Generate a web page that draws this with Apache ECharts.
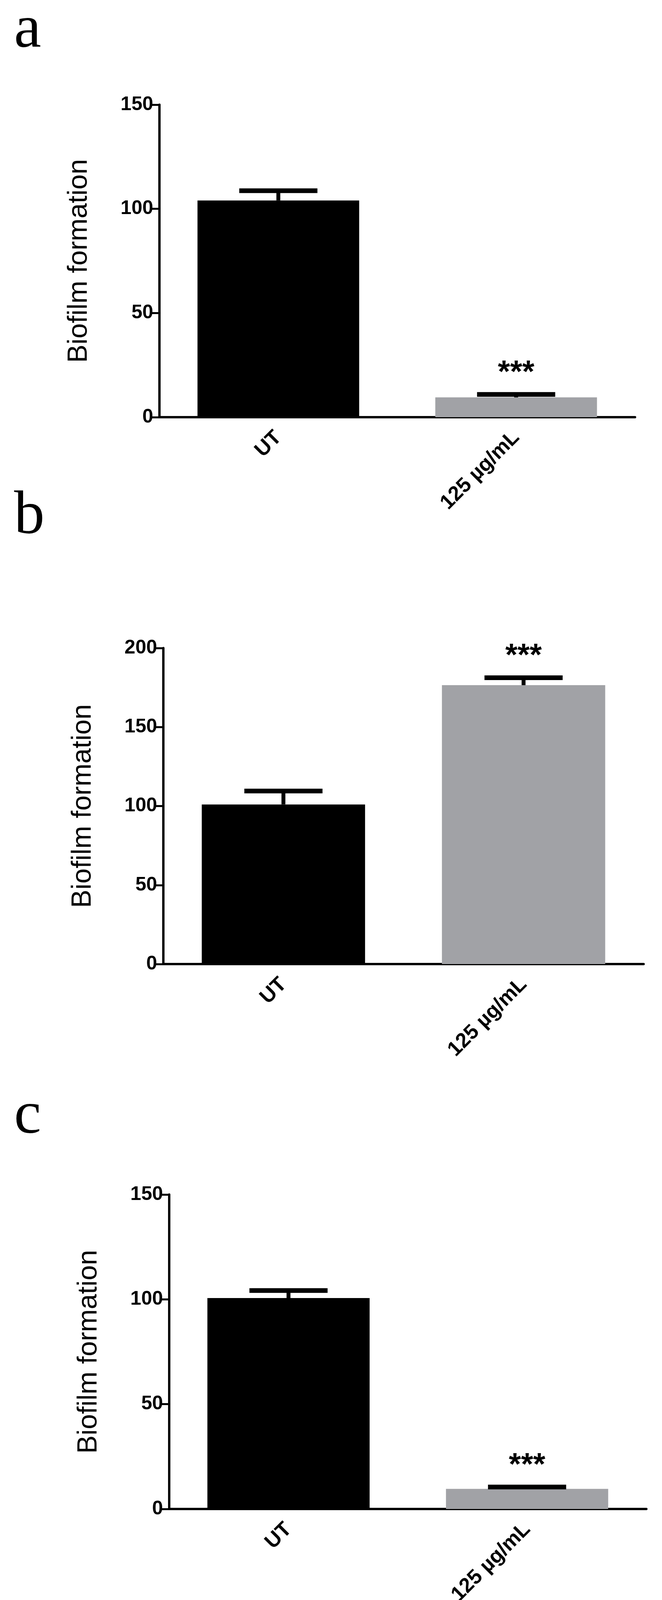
<!DOCTYPE html>
<html><head><meta charset="utf-8">
<script src="https://cdn.jsdelivr.net/npm/echarts@6/dist/echarts.min.js"></script>
<style>html,body{margin:0;padding:0;background:#fff}#c{width:1694px;height:4163px}</style>
</head><body><div id="c"></div>
<script>
const categories = ['UT', '125 µg/mL'];
const panelLetters = ['a', 'b', 'c'];
const meansA = [104, 9.5];
const errTopA = [108.7, 10.9];
const meansB = [101, 176.5];
const errTopB = [109.5, 181.2];
const meansC = [100.6, 9.6];
const errTopC = [104.2, 10.5];
const sigLabels = ['', '***'];
const yMax = [150, 200, 150];
const yInterval = [50, 50, 50];

const means = [meansA, meansB, meansC];
const errs = [errTopA, errTopB, errTopC];
const grids = [
  {left: 408, top: 268, width: 1217, height: 800},
  {left: 418, top: 1659, width: 1229, height: 809},
  {left: 433, top: 3058, width: 1221, height: 805}
];
const letterY = [0, 1245, 2780];
const colors = ['#000000', '#a1a2a6'];
const F = 'Liberation Sans, Arial, sans-serif';

const option = {
  animation: false,
  backgroundColor: '#fff',
  title: panelLetters.map((l, i) => ({text: l, left: 36, top: letterY[i], padding: 0,
    textStyle: {fontFamily: 'Liberation Serif, Times New Roman, serif', fontWeight: 'normal', fontSize: 156, color: '#000'}})),
  grid: grids,
  xAxis: grids.map((g, i) => ({
    type: 'category', gridIndex: i, data: categories,
    axisLine: {lineStyle: {color: '#000', width: 6}},
    axisTick: {alignWithLabel: true, length: 22, lineStyle: {color: '#000', width: 5}},
    axisLabel: {rotate: 45, margin: 44, fontFamily: F, fontWeight: 'bold', fontSize: 53, color: '#000'}
  })),
  yAxis: grids.map((g, i) => ({
    type: 'value', gridIndex: i, min: 0, max: yMax[i], interval: yInterval[i],
    name: 'Biofilm formation', nameLocation: 'middle', nameGap: 170,
    nameTextStyle: {fontFamily: F, fontSize: 70, color: '#000'},
    splitLine: {show: false},
    axisLine: {show: true, lineStyle: {color: '#000', width: 6}},
    axisTick: {show: true, length: 20, lineStyle: {color: '#000', width: 5}},
    axisLabel: {margin: 16, fontFamily: F, fontWeight: 'bold', fontSize: 50, color: '#000'}
  })),
  series: []
};

means.forEach((m, i) => {
  option.series.push({
    type: 'bar', xAxisIndex: i, yAxisIndex: i, barWidth: '68%',
    data: m.map((v, k) => ({value: v, itemStyle: {color: colors[k]}}))
  });
  option.series.push({
    type: 'custom', xAxisIndex: i, yAxisIndex: i,
    data: m.map((v, k) => [k, v, errs[i][k]]),
    renderItem: function (params, api) {
      const k = api.value(0);
      const base = api.coord([k, api.value(1)]);
      const top = api.coord([k, api.value(2)]);
      const half = 100;
      const children = [
        {type: 'line', shape: {x1: base[0], y1: base[1], x2: top[0], y2: top[1]}, style: {stroke: '#000', lineWidth: 10}},
        {type: 'line', shape: {x1: top[0] - half, y1: top[1], x2: top[0] + half, y2: top[1]}, style: {stroke: '#000', lineWidth: 12}}
      ];
      if (sigLabels[k]) {
        children.push({type: 'text', style: {text: sigLabels[k], x: top[0], y: top[1] - 14,
          textAlign: 'center', textVerticalAlign: 'bottom', fontFamily: F, fontWeight: 'bold', fontSize: 80, fill: '#000'}});
      }
      return {type: 'group', children: children};
    },
    z: 5
  });
});

const chart = echarts.init(document.getElementById('c'));
chart.setOption(option);
</script></body></html>
